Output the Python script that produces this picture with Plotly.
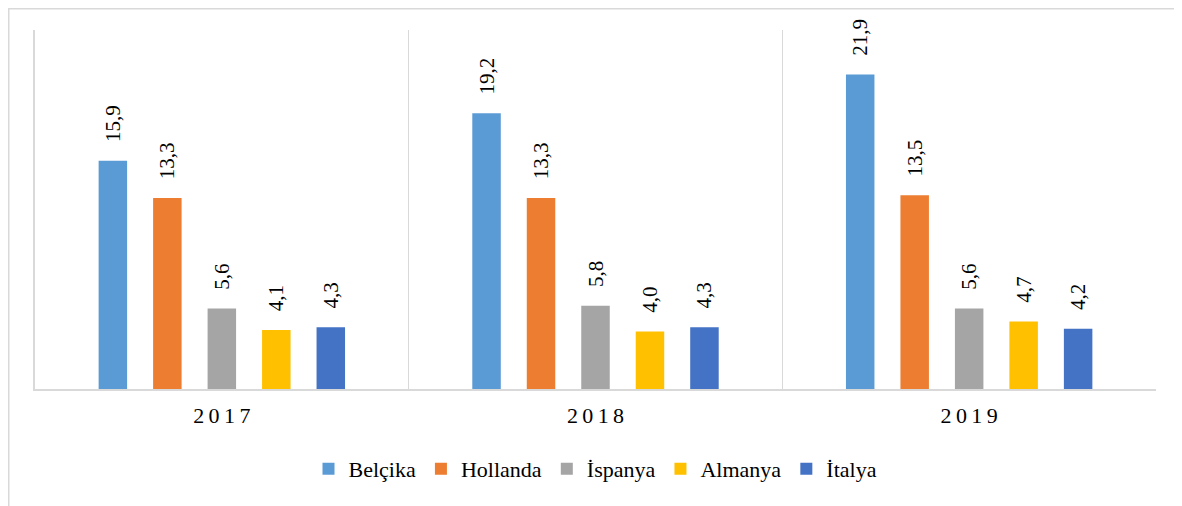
import plotly.graph_objects as go

years = ["2017", "2018", "2019"]
series_names = ["Belçika", "Hollanda", "İspanya", "Almanya", "İtalya"]
belcika = [15.9, 19.2, 21.9]
hollanda = [13.3, 13.3, 13.5]
ispanya = [5.6, 5.8, 5.6]
almanya = [4.1, 4.0, 4.7]
italya = [4.3, 4.3, 4.2]
colors = ["#5B9BD5", "#ED7D31", "#A5A5A5", "#FFC000", "#4472C4"]
year_ticktext = ["\u2009".join(list(y)) for y in years]

FONT = "Liberation Serif"
# page body has an 8px margin; figure sized to fill the rest of the window
W, H = 1174, 498
ML, MR, MT, MB = 27, 26, 22, 117
pw, ph = W - ML - MR, H - MT - MB

fig = go.Figure()
for name, vals, col in zip(series_names, [belcika, hollanda, ispanya, almanya, italya], colors):
    fig.add_trace(go.Bar(
        x=years, y=vals, name=name,
        marker=dict(color=col, line=dict(width=0)),
        texttemplate="\u00a0\u00a0\u00a0%{y:.1f}",
        textposition="outside", textangle=-90,
        textfont=dict(family=FONT, size=21, color="black"),
        constraintext="none", cliponaxis=False,
    ))

# outer chart border (left and top visible)
bx = -(ML - 0.75) / pw
by = 1 + (MT - 0.75) / ph
fig.add_shape(type="rect", xref="paper", yref="paper",
              x0=bx, x1=1.5, y0=-1.0, y1=by,
              line=dict(color="#D9D9D9", width=1.5), layer="below")

fig.update_layout(
    template="none",
    width=W, height=H,
    margin=dict(l=ML, r=MR, t=MT, b=MB),
    paper_bgcolor="white", plot_bgcolor="white",
    barmode="group", bargap=0.271, bargroupgap=0.477,
    separators=", ",
    font=dict(family=FONT, color="black"),
    showlegend=True,
    legend=dict(orientation="h", x=0.5, xanchor="center",
                y=(389 - 469) / ph, yanchor="middle",
                font=dict(family=FONT, size=22, color="black"),
                itemwidth=30, bgcolor="rgba(0,0,0,0)"),
    xaxis=dict(type="category", tickvals=years, ticktext=year_ticktext,
               tickson="boundaries", showgrid=True, gridcolor="#D9D9D9", gridwidth=1,
               showline=True, linecolor="#D9D9D9", linewidth=1.5,
               ticks="", ticklabelstandoff=6,
               tickfont=dict(family=FONT, size=22, color="black"),
               range=[-0.5, 2.5]),
    yaxis=dict(range=[0, 25], showgrid=False, zeroline=False,
               showticklabels=False, showline=True, linecolor="#D9D9D9", linewidth=1.5,
               ticks=""),
)

fig.write_html("out.html")
